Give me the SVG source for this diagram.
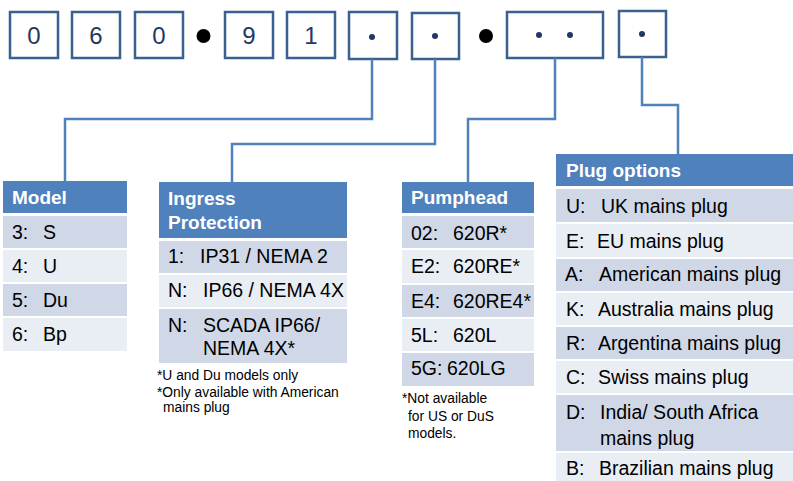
<svg xmlns="http://www.w3.org/2000/svg" width="793" height="481" viewBox="0 0 793 481">
<style>
.box{fill:#fff;stroke:#3A6090;stroke-width:2.5}
.dig{font-family:"Liberation Sans",Arial,sans-serif;font-size:24px;fill:#1F3864;text-anchor:middle}
.sdot{fill:#1F3864}
.conn{fill:none;stroke:#4F81BD;stroke-width:2.5}
.hd{fill:#4F81BD}
.dk{fill:#D0D8E8}
.lt{fill:#E9EDF4}
.ht{font-family:"Liberation Sans",Arial,sans-serif;font-size:19px;font-weight:bold;fill:#fff}
.t{font-family:"Liberation Sans",Arial,sans-serif;font-size:19.5px;fill:#000}
.fn{font-family:"Liberation Sans",Arial,sans-serif;font-size:13.8px;fill:#000}
</style>
<g id="code">
<rect class="box" x="10" y="12" width="48" height="46"/><text class="dig" x="34" y="44">0</text>
<rect class="box" x="72" y="12" width="48" height="46"/><text class="dig" x="96" y="44">6</text>
<rect class="box" x="135" y="12" width="48" height="46"/><text class="dig" x="159" y="44">0</text>
<circle cx="203.5" cy="36" r="7" fill="#000"/>
<rect class="box" x="225" y="12" width="48" height="46"/><text class="dig" x="249" y="44">9</text>
<rect class="box" x="287" y="12" width="48" height="46"/><text class="dig" x="311" y="44">1</text>
<rect class="box" x="349" y="12" width="48" height="47"/><circle class="sdot" cx="372" cy="37" r="3"/>
<rect class="box" x="412" y="13" width="47" height="46"/><circle class="sdot" cx="435" cy="36" r="3"/>
<circle cx="486" cy="36" r="7" fill="#000"/>
<rect class="box" x="507" y="12" width="96" height="46"/><circle class="sdot" cx="539" cy="35" r="3"/><circle class="sdot" cx="570" cy="35" r="3"/>
<rect class="box" x="619" y="11" width="47" height="46"/><circle class="sdot" cx="642" cy="34" r="3"/>
</g>
<g id="connectors">
<path class="conn" d="M372,59 V119 H65 V181"/>
<path class="conn" d="M435,59 V144 H232 V182"/>
<path class="conn" d="M555,58 V119 H468 V182"/>
<path class="conn" d="M642,57 V105 H678 V154"/>
</g>
<g id="model">
<rect class="hd" x="3" y="181" width="124" height="32"/>
<text class="ht" x="12" y="204">Model</text>
<rect class="dk" x="3" y="216" width="124" height="32"/>
<rect class="lt" x="3" y="250" width="124" height="32"/>
<rect class="dk" x="3" y="284" width="124" height="32"/>
<rect class="lt" x="3" y="318" width="124" height="33"/>
<text class="t" x="12" y="239">3:</text><text class="t" x="43" y="239">S</text>
<text class="t" x="12" y="273">4:</text><text class="t" x="43" y="273">U</text>
<text class="t" x="12" y="307">5:</text><text class="t" x="43" y="307">Du</text>
<text class="t" x="12" y="341">6:</text><text class="t" x="43" y="341">Bp</text>
</g>
<g id="ingress">
<rect class="hd" x="159" y="182" width="188" height="56"/>
<text class="ht" x="168" y="205">Ingress</text>
<text class="ht" x="168" y="229">Protection</text>
<rect class="dk" x="159" y="241" width="188" height="32"/>
<rect class="lt" x="159" y="275" width="188" height="32"/>
<rect class="dk" x="159" y="309" width="188" height="54"/>
<text class="t" x="168" y="263">1:</text><text class="t" x="200" y="263">IP31 / NEMA 2</text>
<text class="t" x="168" y="297">N:</text><text class="t" x="203" y="297">IP66 / NEMA 4X</text>
<text class="t" x="168" y="332">N:</text><text class="t" x="203" y="332">SCADA IP66/</text>
<text class="t" x="203" y="355">NEMA 4X*</text>
<text class="fn" x="157" y="380">*U and Du models only</text>
<text class="fn" x="157" y="397">*Only available with American</text>
<text class="fn" x="163" y="412">mains plug</text>
</g>
<g id="pumphead">
<rect class="hd" x="402" y="182" width="132" height="31"/>
<text class="ht" x="411" y="204">Pumphead</text>
<rect class="dk" x="402" y="216" width="132" height="32"/>
<rect class="lt" x="402" y="250" width="132" height="33"/>
<rect class="dk" x="402" y="285" width="132" height="32"/>
<rect class="lt" x="402" y="319" width="132" height="32"/>
<rect class="dk" x="402" y="353" width="132" height="33"/>
<text class="t" x="411" y="240">02:</text><text class="t" x="453" y="240">620R*</text>
<text class="t" x="411" y="273">E2:</text><text class="t" x="453" y="273">620RE*</text>
<text class="t" x="411" y="308">E4:</text><text class="t" x="453" y="308">620RE4*</text>
<text class="t" x="411" y="342">5L:</text><text class="t" x="453" y="342">620L</text>
<text class="t" x="411" y="375">5G:</text><text class="t" x="447" y="375">620LG</text>
<text class="fn" x="402" y="403">*Not available</text>
<text class="fn" x="408" y="421">for US or DuS</text>
<text class="fn" x="408" y="438">models.</text>
</g>
<g id="plug">
<rect class="hd" x="556" y="154" width="237" height="32"/>
<text class="ht" x="566" y="177">Plug options</text>
<rect class="dk" x="556" y="189" width="237" height="33"/>
<rect class="lt" x="556" y="224" width="237" height="33"/>
<rect class="dk" x="556" y="259" width="237" height="32"/>
<rect class="lt" x="556" y="293" width="237" height="32"/>
<rect class="dk" x="556" y="327" width="237" height="32"/>
<rect class="lt" x="556" y="361" width="237" height="32"/>
<rect class="dk" x="556" y="395" width="237" height="56"/>
<rect class="lt" x="556" y="453" width="237" height="28"/>
<text class="t" x="566" y="213">U:</text><text class="t" x="601" y="213">UK mains plug</text>
<text class="t" x="566" y="248">E:</text><text class="t" x="597" y="248">EU mains plug</text>
<text class="t" x="565" y="281">A:</text><text class="t" x="599" y="281">American mains plug</text>
<text class="t" x="566" y="316">K:</text><text class="t" x="598" y="316">Australia mains plug</text>
<text class="t" x="566" y="350">R:</text><text class="t" x="598" y="350">Argentina mains plug</text>
<text class="t" x="566" y="384">C:</text><text class="t" x="598" y="384">Swiss mains plug</text>
<text class="t" x="566" y="419">D:</text><text class="t" x="600" y="419">India/ South Africa</text>
<text class="t" x="600" y="445">mains plug</text>
<text class="t" x="566" y="475">B:</text><text class="t" x="599" y="475">Brazilian mains plug</text>
</g>
</svg>
